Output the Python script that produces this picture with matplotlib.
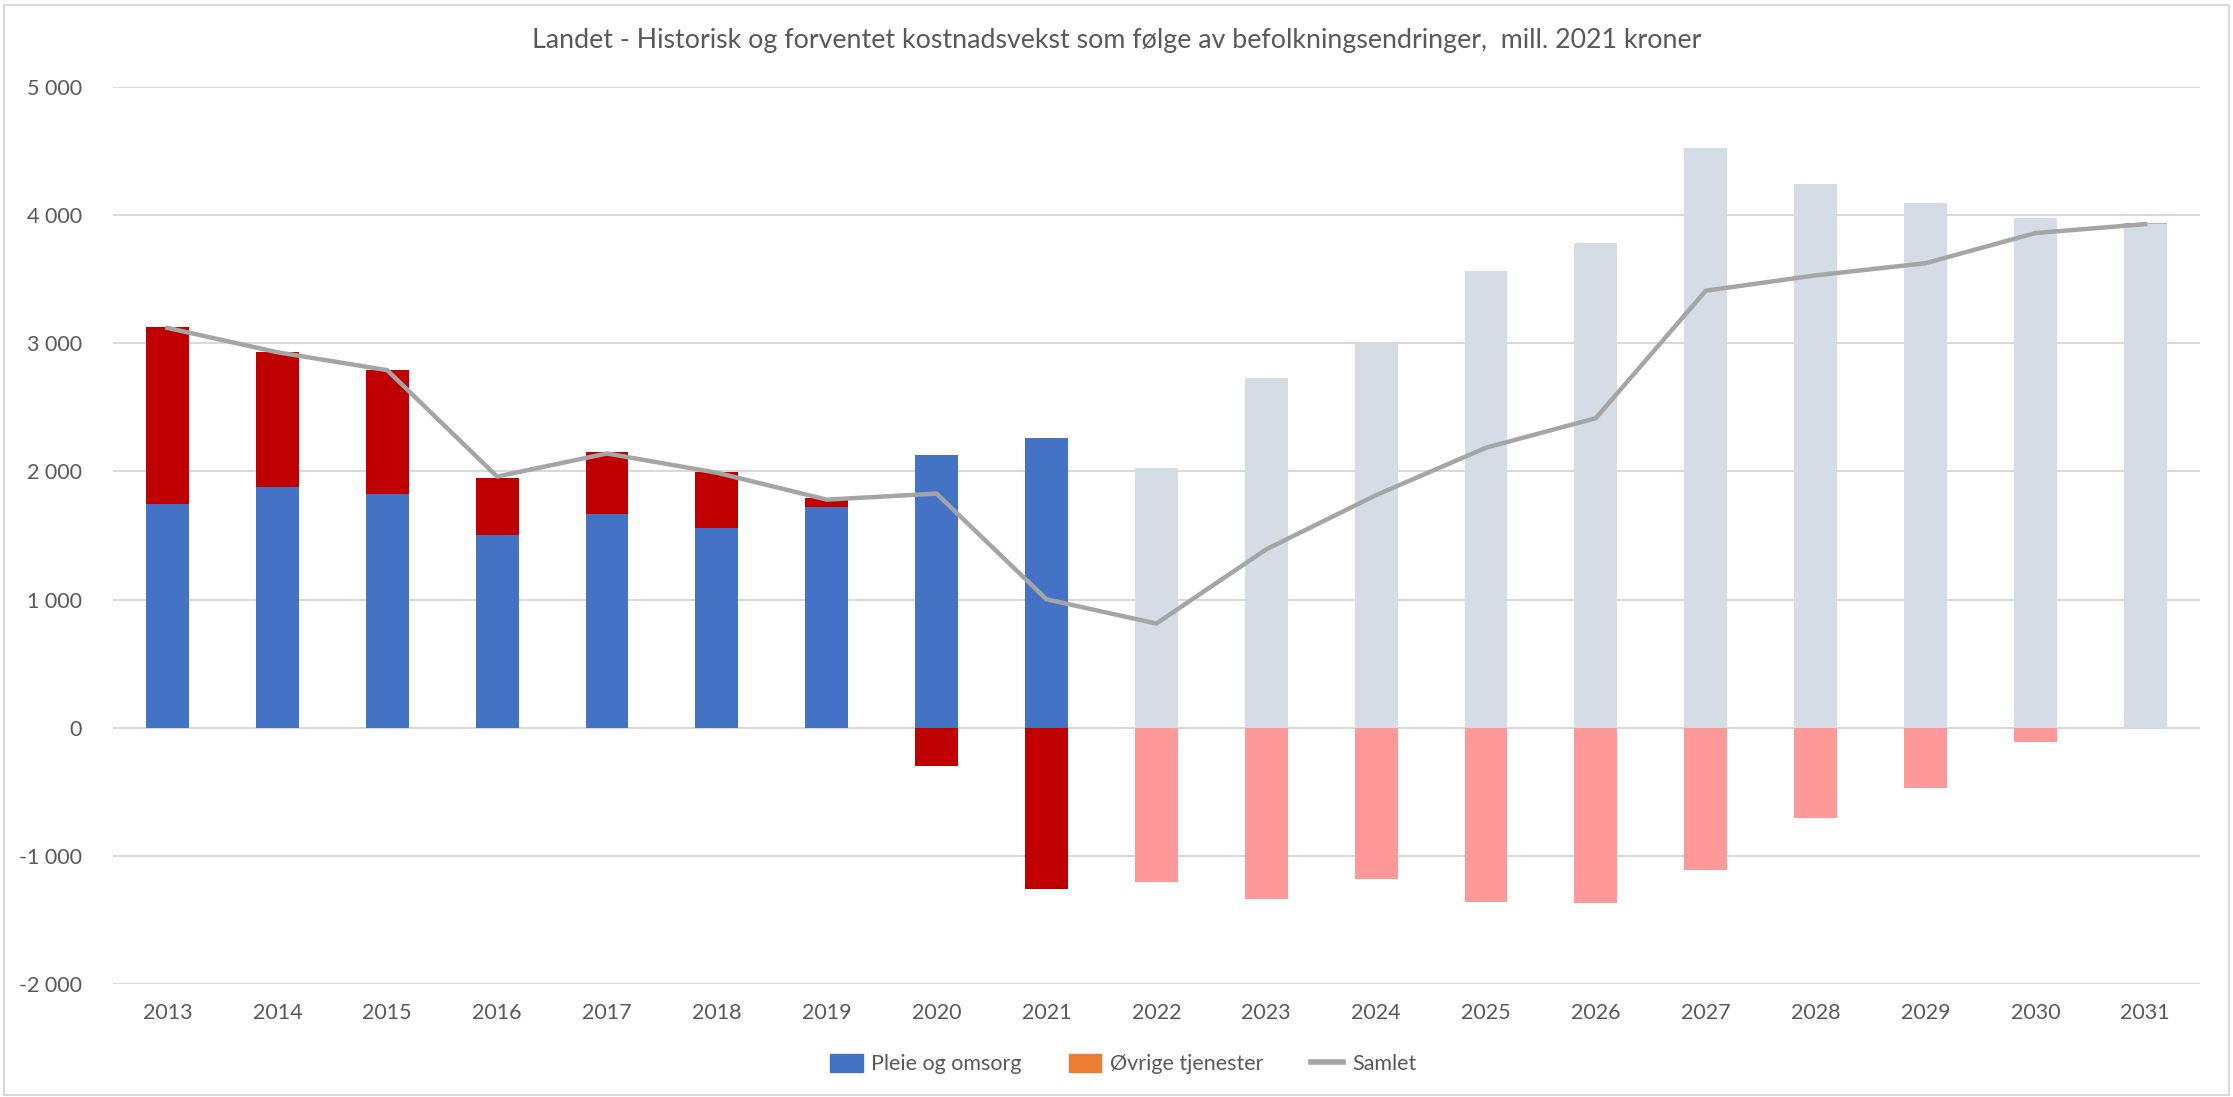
import matplotlib.pyplot as plt
import matplotlib.patches as mpatches
import matplotlib.lines as mlines
from matplotlib.ticker import FuncFormatter
import numpy as np

# Values (mill. 2021 kroner)
years = [2013, 2014, 2015, 2016, 2017, 2018, 2019, 2020, 2021,
         2022, 2023, 2024, 2025, 2026, 2027, 2028, 2029, 2030, 2031]
pleie = [1748, 1882, 1826, 1503, 1670, 1559, 1726, 2127, 2260,
         2027, 2728, 2996, 3563, 3786, 4521, 4243, 4098, 3976, 3931]
ovrige = [1381, 1047, 969, 446, 479, 434, 67, -300, -1258,
          -1203, -1336, -1180, -1359, -1370, -1114, -702, -468, -111, 10]
samlet = [3120, 2930, 2790, 1960, 2140, 1990, 1780, 1827, 1002,
          813, 1392, 1815, 2185, 2416, 3410, 3530, 3625, 3860, 3930]
first_forecast = 2022

title = "Landet - Historisk og forventet kostnadsvekst som følge av befolkningsendringer,  mill. 2021 kroner"

plt.rcParams["font.family"] = ["Lato", "DejaVu Sans"]

fig = plt.figure(figsize=(22.33, 10.97), dpi=100)
ax = fig.add_axes([0.0504, 0.103, 0.9349, 0.8177])

x = np.arange(len(years))
forecast = np.array(years) >= first_forecast
blue = np.where(forecast, "#D6DCE5", "#4472C4")
red = np.where(forecast, "#FF9999", "#C00000")

pleie = np.array(pleie)
ovrige = np.array(ovrige)
# positive parts stack on top of pleie, negative parts go below zero
bottom_ov = np.where(ovrige >= 0, pleie, 0)

w = 0.39
ax.bar(x, pleie, w, color=blue, zorder=2)
ax.bar(x, ovrige, w, bottom=bottom_ov, color=red, zorder=2)
ax.plot(x, samlet, color="#A5A5A5", lw=3.2, zorder=3, solid_joinstyle="round")

ax.set_xlim(-0.5, len(years) - 0.5)
ax.set_ylim(-2000, 5000)
ax.set_yticks(range(-2000, 5001, 1000))
ax.yaxis.set_major_formatter(FuncFormatter(lambda v, p: f"{int(v):,}".replace(",", " ")))
ax.set_xticks(x)
ax.set_xticklabels([str(y) for y in years])
ax.grid(axis="y", color="#D9D9D9", lw=1.5, zorder=0)
ax.tick_params(length=0, labelsize=15.5, colors="#595959")
ax.tick_params(axis="x", pad=14)
ax.tick_params(axis="y", pad=22)
for s in ax.spines.values():
    s.set_visible(False)

fig.text(0.5, 0.963, title, ha="center", va="center", fontsize=19.3, color="#595959")

handles = [
    mpatches.Patch(color="#4472C4", label="Pleie og omsorg"),
    mpatches.Patch(color="#ED7D31", label="Øvrige tjenester"),
    mlines.Line2D([], [], color="#A5A5A5", lw=4, label="Samlet"),
]
leg = fig.legend(handles=handles, loc="center", bbox_to_anchor=(0.503, 0.030), ncol=3,
                 frameon=False, fontsize=15.5, handlelength=1.5, handleheight=0.9,
                 handletextpad=0.4, columnspacing=2.2)
for t in leg.get_texts():
    t.set_color("#595959")

# light chart border
fig.patches.append(mpatches.Rectangle((0.002, 0.002), 0.996, 0.993, transform=fig.transFigure,
                                      fill=False, edgecolor="#D9D9D9", lw=1.5))

fig.savefig("out.png", dpi=100)
